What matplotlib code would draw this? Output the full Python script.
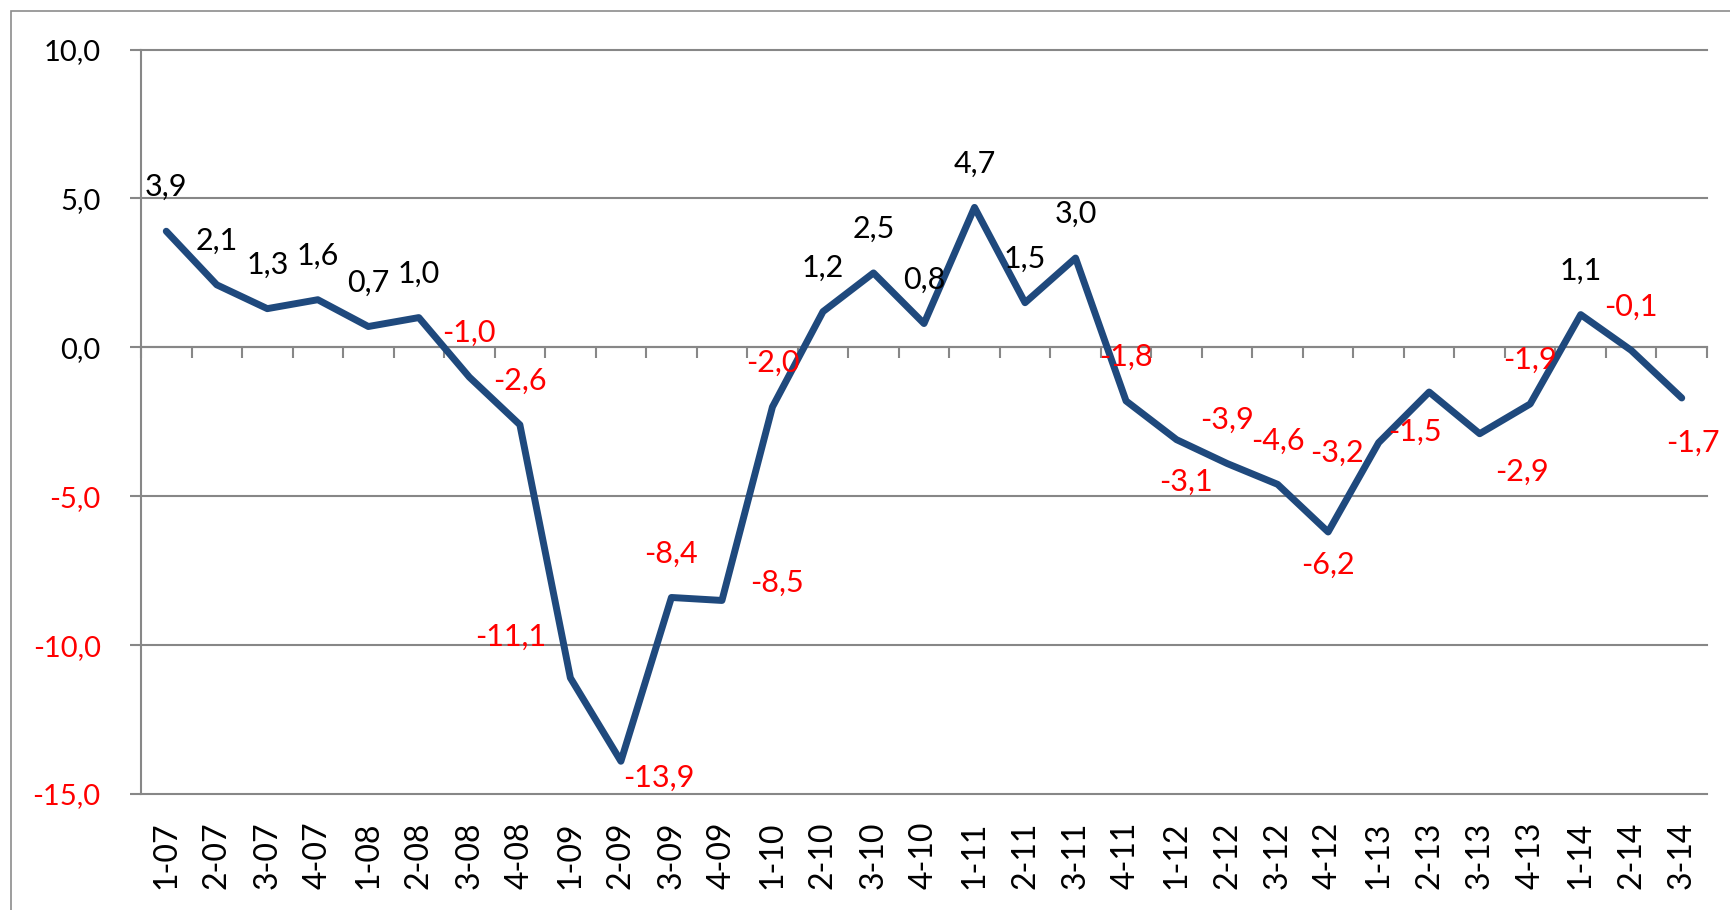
import numpy as np
import matplotlib.pyplot as plt
from matplotlib.patches import Rectangle

plt.rcParams['font.family'] = ['Lato', 'DejaVu Sans']

# quarters 2007 - 2014
quarters = ['1-07', '2-07', '3-07', '4-07', '1-08', '2-08', '3-08', '4-08',
            '1-09', '2-09', '3-09', '4-09', '1-10', '2-10', '3-10', '4-10',
            '1-11', '2-11', '3-11', '4-11', '1-12', '2-12', '3-12', '4-12',
            '1-13', '2-13', '3-13', '4-13', '1-14', '2-14', '3-14']
values = [3.9, 2.1, 1.3, 1.6, 0.7, 1.0, -1.0, -2.6, -11.1, -13.9, -8.4, -8.5,
          -2.0, 1.2, 2.5, 0.8, 4.7, 1.5, 3.0, -1.8, -3.1, -3.9, -4.6, -6.2,
          -3.2, -1.5, -2.9, -1.9, 1.1, -0.1, -1.7]
y_ticks = [-15, -10, -5, 0, 5, 10]

# label offsets (pixels) where Excel put them off the default "above"
special_offsets = {8: (-60, 41), 9: (38, -17), 11: (55, 18), 20: (9, -42),
                   23: (0, -33), 24: (-42, -10), 25: (-14, -40), 26: (42, -38),
                   30: (11, -45)}

grey = '#878787'
line_col = '#1F497D'

def fmt(v):
    return f"{v:.1f}".replace('.', ',')

fig = plt.figure(figsize=(17.3, 9.1), dpi=100)
ax = fig.add_axes([141 / 1730, 1 - 794 / 910, (1707 - 141) / 1730, (794 - 49.6) / 910])

x = np.arange(len(quarters))
ax.plot(x, values, color=line_col, lw=5, solid_capstyle='round', solid_joinstyle='round', zorder=3)

for i, v in enumerate(values):
    dx, dy = special_offsets.get(i, (0, 44))
    ax.annotate(fmt(v), (i, v), xytext=(dx * 0.72, dy * 0.72), textcoords='offset points',
                ha='center', va='center', fontsize=22,
                color='red' if v < 0 else 'black', zorder=4)

ax.set_xlim(-0.5, len(quarters) - 0.5)
ax.set_ylim(-15, 10)

# y axis
ax.set_yticks(y_ticks, labels=[fmt(v) for v in y_ticks])
for lbl, v in zip(ax.get_yticklabels(), y_ticks):
    lbl.set_color('red' if v < 0 else 'black')
ax.tick_params(axis='y', direction='out', length=8, width=1.5, color=grey, pad=21, labelsize=21)
ax.yaxis.grid(True, color=grey, lw=1.5)
for gl in ax.get_ygridlines():
    gl.set_clip_on(False)
ax.set_axisbelow(True)

# x axis line at zero with tick marks between categories
ax.spines['bottom'].set_position(('data', 0))
ax.spines['bottom'].set_color(grey)
ax.spines['bottom'].set_linewidth(1.5)
ax.spines['left'].set_color(grey)
ax.spines['left'].set_linewidth(1.5)
ax.spines['top'].set_visible(False)
ax.spines['right'].set_visible(False)
ax.set_xticks(np.arange(-0.5, len(quarters), 1))
ax.tick_params(axis='x', direction='out', length=8, width=1.5, color=grey, labelbottom=False)

# category labels at the bottom of the plot area
sec = ax.secondary_xaxis('bottom')
sec.set_xticks(x, labels=quarters, rotation=90)
sec.tick_params(length=0, pad=20, labelsize=23)
sec.spines['bottom'].set_visible(False)

fig.patches.append(Rectangle((11 / 1730, -0.05), 1.2, 1 - 11 / 910 + 0.05,
                             transform=fig.transFigure, fill=False, ec='#8c8c8c', lw=1.2))

fig.savefig('out.png', dpi=100)
